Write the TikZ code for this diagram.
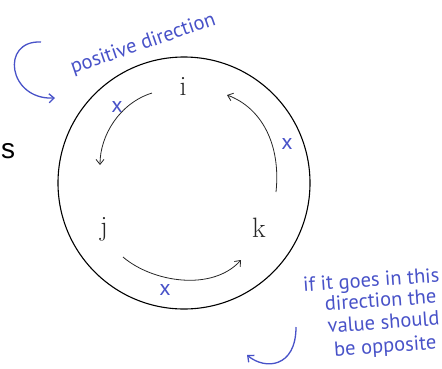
\documentclass[tikz,border=0pt]{standalone}
\usepackage{fontspec}
\setsansfont{Liberation Sans}
\newfontfamily\hand{PT Sans}
\usetikzlibrary{arrows.meta}
\definecolor{handblue}{RGB}{72,82,200}
\tikzset{
  ink/.style={draw=black!85, line width=0.8pt, -{Straight Barb[length=5pt,width=8pt]}},
  bluearrow/.style={draw=handblue, line width=1.3pt, -{Straight Barb[length=5pt,width=9pt]}},
  bluenote/.style={text=handblue, font=\hand\fontsize{20.5}{21}\selectfont, inner sep=0pt},
  noteline/.style={bluenote, rotate=4, anchor=base east},
  letter/.style={font=\rmfamily\fontsize{28}{30}\selectfont, inner sep=0pt, text=black!85},
  cross/.style={text=handblue, font=\hand\fontsize{22}{22}\selectfont, inner sep=0pt}
}
\begin{document}
\begin{tikzpicture}[x=1pt,y=-1pt]
\useasboundingbox (0,0) rectangle (442,368);
% outer ring
\node[circle, draw=black, line width=1.1pt, minimum size=252pt, inner sep=0pt] (ring) at (184,183) {};
% letters
\node[letter, anchor=base] (i) at (183,95) {i};
\node[letter, anchor=base] (j) at (104,235) {j};
\node[letter, anchor=base] (k) at (259,237) {k};
% side fragment
\node[font=\sffamily\fontsize{28}{30}\selectfont, inner sep=0pt, anchor=base west] (s) at (1,158) {s};
% arrow end points
\coordinate (a1s) at (152,93);
\coordinate (a1e) at (100,165);
\coordinate (a2s) at (276,192);
\coordinate (a2e) at (227,95);
\coordinate (a3s) at (123,257);
\coordinate (a3e) at (241,260);
\draw[ink] (a1s) .. controls (120,103) and (100,135) .. (a1e);
\draw[ink] (a2s) .. controls (281,145) and (262,108) .. (a2e);
\draw[ink] (a3s) .. controls (152,282) and (212,292) .. (a3e);
% crosses
\node[cross] (x1) at (117,107) {x};
\node[cross] (x2) at (287,144) {x};
\node[cross] (x3) at (165,290) {x};
% blue notes
\coordinate (b1s) at (41,42);
\coordinate (b1e) at (55,98);
\draw[bluearrow] (b1s) .. controls (0,40) and (8,100) .. (b1e);
\node[bluenote, rotate=19, anchor=base west] (pos) at (73,74) {positive direction};
\coordinate (b2s) at (296,327);
\coordinate (b2e) at (247,355);
\draw[bluearrow] (b2s) .. controls (296,368) and (265,370) .. (b2e);
\node[noteline] (n1) at (440,282) {if it goes in this};
\node[noteline] (n2) at (437,303) {direction the};
\node[noteline] (n3) at (440,325) {value should};
\node[noteline] (n4) at (437,349) {be opposite};
\end{tikzpicture}
\end{document}
